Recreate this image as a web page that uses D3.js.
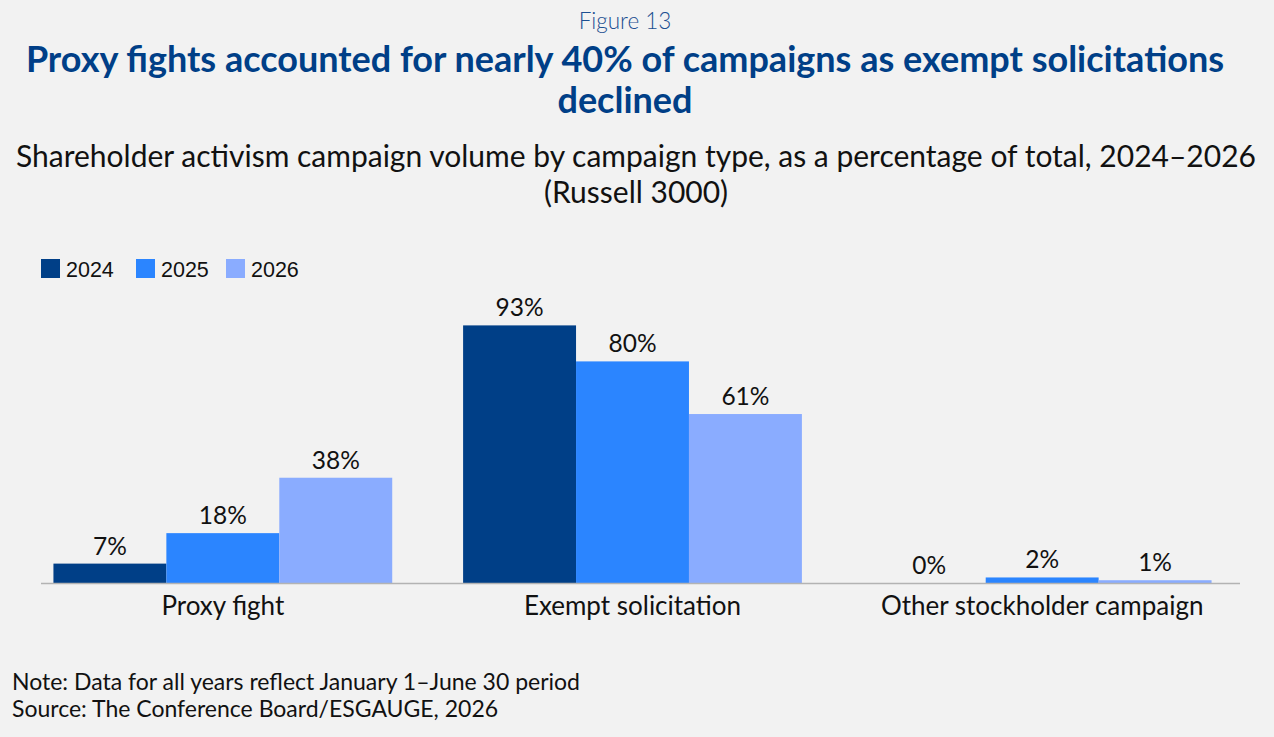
<!DOCTYPE html>
<html>
<head>
<meta charset="utf-8">
<script src="https://cdn.jsdelivr.net/npm/d3@7"></script>
<style>
  html, body { margin: 0; padding: 0; background: #f2f2f2; }
  #chart { width: 1274px; height: 737px; }
  text { font-family: Lato, "Open Sans", sans-serif; }
</style>
</head>
<body>
<div id="chart"></div>
<script>
const categories = ['Proxy fight', 'Exempt solicitation', 'Other stockholder campaign'];
const years = ['2024', '2025', '2026'];
const values2024 = [7, 93, 0];
const values2025 = [18, 80, 2];
const values2026 = [38, 61, 1];
const colors = ['#003f87', '#2b85ff', '#8aacff'];

const seriesValues = [values2024, values2025, values2026];

const width = 1274;
const height = 737;
const baseline = 583;

const svg = d3.select('#chart')
    .append('svg')
    .attr('width', width)
    .attr('height', height);

svg.append('rect')
    .attr('width', width)
    .attr('height', height)
    .attr('fill', '#f2f2f2');

// Titles
svg.append('text')
    .attr('x', 625)
    .attr('y', 29)
    .attr('text-anchor', 'middle')
    .style('fill', '#1c4f91')
    .style('font-size', '22.5px')
    .style('font-weight', 300)
    .text('Figure 13');

const titleLines = ['Proxy fights accounted for nearly 40% of campaigns as exempt solicitations', 'declined'];
svg.selectAll('.title')
    .data(titleLines)
    .enter()
    .append('text')
    .attr('class', 'title')
    .attr('x', 625)
    .attr('y', (d, i) => 72 + i * 41)
    .attr('text-anchor', 'middle')
    .style('fill', '#003f87')
    .style('font-size', '36px')
    .style('font-weight', 'bold')
    .text(d => d);

const subtitleLines = ['Shareholder activism campaign volume by campaign type, as a percentage of total, 2024\u20132026', '(Russell 3000)'];
svg.selectAll('.subtitle')
    .data(subtitleLines)
    .enter()
    .append('text')
    .attr('class', 'subtitle')
    .attr('x', 636)
    .attr('y', (d, i) => 167 + i * 36)
    .attr('text-anchor', 'middle')
    .style('fill', '#111')
    .style('font-size', '30px')
    .text(d => d);

// Scales
const x0 = d3.scaleBand()
    .domain(categories)
    .range([18, 1247])
    .paddingInner(0.173)
    .paddingOuter(0.0865);

const x1 = d3.scaleBand()
    .domain(years)
    .range([0, x0.bandwidth()]);

const y = d3.scaleLinear()
    .domain([0, 100])
    .range([baseline, baseline - 277]);

// Bars
const groups = svg.selectAll('.group')
    .data(categories)
    .enter()
    .append('g')
    .attr('class', 'group')
    .attr('transform', d => `translate(${x0(d)},0)`);

groups.selectAll('rect')
    .data((d, ci) => years.map((yr, si) => ({ year: yr, value: seriesValues[si][ci], color: colors[si] })))
    .enter()
    .append('rect')
    .attr('x', d => x1(d.year))
    .attr('y', d => y(d.value))
    .attr('width', x1.bandwidth())
    .attr('height', d => baseline - y(d.value))
    .attr('fill', d => d.color);

groups.selectAll('.value-label')
    .data((d, ci) => years.map((yr, si) => ({ year: yr, value: seriesValues[si][ci] })))
    .enter()
    .append('text')
    .attr('class', 'value-label')
    .attr('x', d => x1(d.year) + x1.bandwidth() / 2)
    .attr('y', d => y(d.value) - 9)
    .attr('text-anchor', 'middle')
    .style('fill', '#111')
    .style('font-size', '24.5px')
    .text(d => d.value + '%');

// Axis
const axis = svg.append('g')
    .attr('transform', `translate(0,${baseline})`)
    .call(d3.axisBottom(x0).tickSize(0).tickPadding(10));
axis.select('.domain')
    .attr('d', 'M41,0.5H1240')
    .attr('stroke', '#b3b3b3')
    .attr('stroke-width', 1.5);
axis.selectAll('text')
    .attr('dy', '0.85em')
    .style('fill', '#111')
    .style('font-size', '26px')
    .style('font-family', 'Lato, sans-serif');

// Legend
const legend = svg.append('g')
    .attr('transform', 'translate(41,259)');
const legendX = [0, 95, 185];
legend.selectAll('.legend-item')
    .data(years)
    .enter()
    .append('g')
    .attr('class', 'legend-item')
    .attr('transform', (d, i) => `translate(${legendX[i]},0)`)
    .each(function (d, i) {
        const g = d3.select(this);
        g.append('rect')
            .attr('width', 19)
            .attr('height', 19)
            .attr('fill', colors[i]);
        g.append('text')
            .attr('x', 25)
            .attr('y', 18)
            .style('fill', '#111')
            .style('font-size', '21.5px')
            .style('font-family', 'Liberation Sans, Arial, sans-serif')
            .text(d);
    });

// Notes
const notes = ['Note: Data for all years reflect January 1\u2013June 30 period', 'Source: The Conference Board/ESGAUGE, 2026'];
svg.selectAll('.note')
    .data(notes)
    .enter()
    .append('text')
    .attr('class', 'note')
    .attr('x', 12)
    .attr('y', (d, i) => 690 + i * 27)
    .style('fill', '#111')
    .style('font-size', '23px')
    .text(d => d);
</script>
</body>
</html>
